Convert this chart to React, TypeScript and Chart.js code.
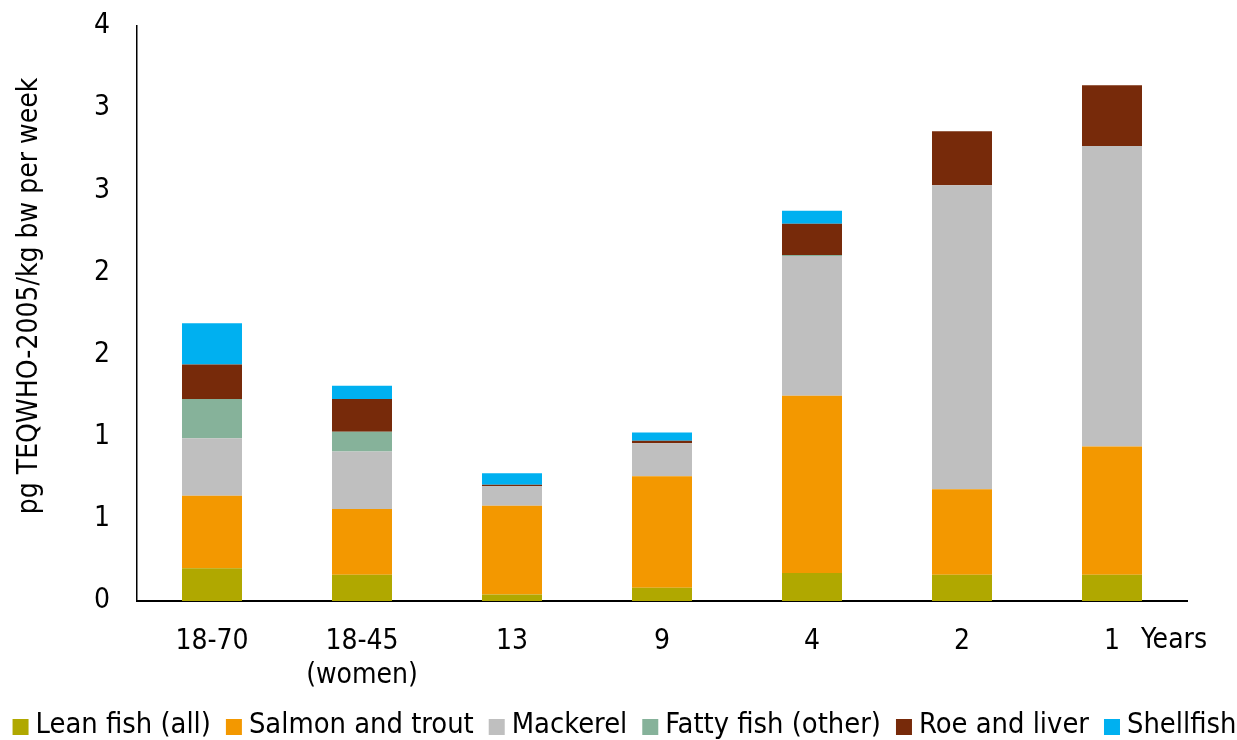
import React, { useEffect, useRef } from "react";
import { Chart, registerables } from "chart.js";

Chart.register(...registerables);

const categories: (string | string[])[] = ["18-70", ["18-45", "(women)"], "13", "9", "4", "2", "1"];
const seriesNames = ["Lean fish (all)", "Salmon and trout", "Mackerel", "Fatty fish (other)", "Roe and liver", "Shellfish"];
const leanFish = [0.2, 0.16, 0.04, 0.08, 0.17, 0.16, 0.16];
const salmonTrout = [0.44, 0.4, 0.54, 0.68, 1.08, 0.52, 0.78];
const mackerel = [0.35, 0.35, 0.12, 0.2, 0.85, 1.85, 1.83];
const fattyOther = [0.24, 0.12, 0, 0, 0.006, 0, 0];
const roeLiver = [0.21, 0.2, 0.008, 0.015, 0.19, 0.33, 0.37];
const shellfish = [0.25, 0.08, 0.07, 0.05, 0.08, 0, 0];
const seriesColors = ["#B0A800", "#F39800", "#BFBFBF", "#86B29A", "#772A0A", "#00B0F0"];
const yTicks = [0, 0.5, 1, 1.5, 2, 2.5, 3, 3.5];
const yTitle = "pg TEQWHO-2005/kg bw per week";
const xUnit = "Years";

const FONT = "'DejaVu Sans Condensed', 'DejaVu Sans', sans-serif";
const FS = 28;
const LEGEND_FS = 28.8;

export default function App() {
  const ref = useRef<HTMLCanvasElement | null>(null);
  useEffect(() => {
    document.body.style.margin = "0";
    const extrasPlugin = {
      id: "extras",
      afterDraw(chart: any) {
        const ctx = chart.ctx;
        ctx.save();
        ctx.font = `${FS}px ${FONT}`;
        ctx.fillStyle = "#000";
        ctx.textBaseline = "middle";
        // unit label
        ctx.textAlign = "center";
        ctx.fillText(xUnit, 1174, 641);
        // y title
        ctx.save();
        ctx.translate(30, 296);
        ctx.rotate(-Math.PI / 2);
        ctx.fillText(yTitle, 0, 0);
        ctx.restore();
        // legend
        ctx.font = `${LEGEND_FS}px ${FONT}`;
        const box = 16, gapBox = 7, gapItem = 15;
        const widths = chart.data.datasets.map((d: any) => ctx.measureText(d.label).width);
        let total = 0;
        widths.forEach((w: number, i: number) => {
          total += box + gapBox + w + (i < widths.length - 1 ? gapItem : 0);
        });
        let x = (chart.width - total) / 2 + 6;
        const y = 726;
        ctx.textAlign = "left";
        chart.data.datasets.forEach((d: any, i: number) => {
          ctx.fillStyle = d.backgroundColor;
          ctx.fillRect(x, y - box / 2 + 1, box, box);
          x += box + gapBox;
          ctx.fillStyle = "#000";
          ctx.fillText(d.label, x, y);
          x += widths[i] + gapItem;
        });
        ctx.restore();
      },
    };
    const values = [leanFish, salmonTrout, mackerel, fattyOther, roeLiver, shellfish];
    const chart = new Chart(ref.current!, {
      type: "bar",
      data: {
        labels: categories,
        datasets: values.map((data, i) => ({
          label: seriesNames[i],
          data,
          backgroundColor: seriesColors[i],
          borderWidth: 0,
          categoryPercentage: 1,
          barPercentage: 0.4,
        })),
      },
      plugins: [extrasPlugin],
      options: {
        animation: false,
        responsive: false,
        layout: { padding: { top: 26, right: 50, left: 0, bottom: 0 } },
        plugins: {
          tooltip: { enabled: false },
          legend: { display: false },
        },
        scales: {
          x: {
            stacked: true,
            grid: { display: false, drawTicks: false },
            border: { color: "#000", width: 2 },
            ticks: {
              color: "#000",
              font: { family: FONT, size: FS, lineHeight: 1.2 },
              padding: 24,
              maxRotation: 0,
              autoSkip: false,
            },
            afterFit: (s: any) => {
              s.height = 139;
              s.paddingLeft = 0;
              s.paddingRight = 0;
            },
          },
          y: {
            stacked: true,
            min: 0,
            max: 3.5,
            afterBuildTicks: (s: any) => {
              s.ticks = yTicks.map((v) => ({ value: v }));
            },
            grid: { display: false, drawTicks: false },
            border: { color: "#000", width: 1.5 },
            ticks: {
              color: "#000",
              font: { family: FONT, size: FS },
              padding: 27,
              callback: (v: any) => String(Math.round(Number(v))),
            },
            afterFit: (s: any) => {
              s.width = 137;
              s.paddingTop = 0;
              s.paddingBottom = 0;
            },
          },
        },
      },
    });
    return () => chart.destroy();
  }, []);
  return (
    <div style={{ width: 1237, height: 740 }}>
      <canvas ref={ref} width={1237} height={740} />
    </div>
  );
}
